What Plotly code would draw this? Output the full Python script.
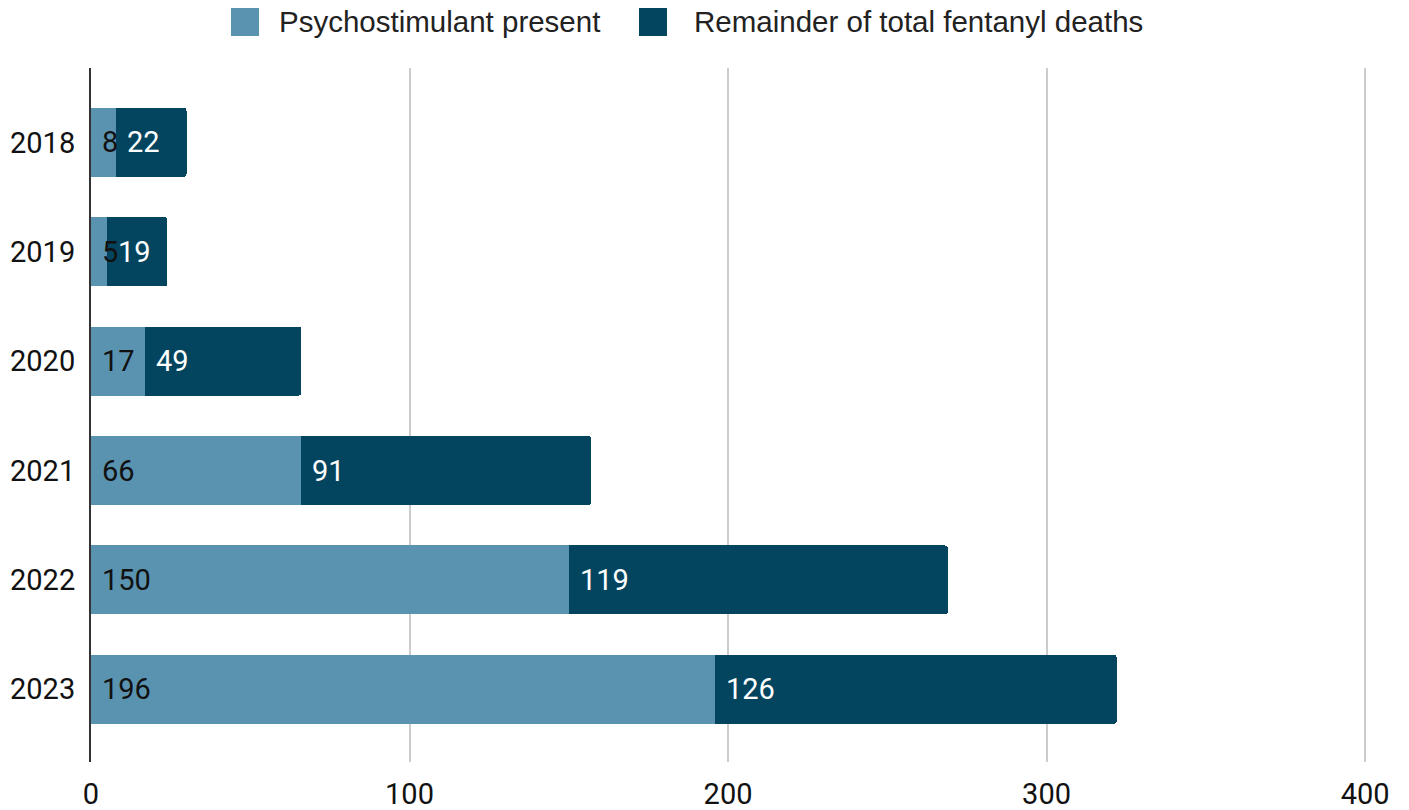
import plotly.graph_objects as go

years = ["2018", "2019", "2020", "2021", "2022", "2023"]
psychostimulant = [8, 5, 17, 66, 150, 196]
remainder = [22, 19, 49, 91, 119, 126]
series_names = ["Psychostimulant present", "Remainder of total fentanyl deaths"]
x_ticks = [0, 100, 200, 300, 400]

LIGHT = "#5a93b0"
DARK = "#03455f"

fig = go.Figure()
fig.add_trace(go.Bar(y=years, x=psychostimulant, orientation="h", name=series_names[0],
                     marker=dict(color=LIGHT, line=dict(width=0)), showlegend=False,
                     hoverinfo="x+name"))
fig.add_trace(go.Bar(y=years, x=remainder, orientation="h", name=series_names[1],
                     marker=dict(color=DARK, line=dict(width=0)), showlegend=False,
                     hoverinfo="x+name"))

annotations = []
for i, (a, b) in enumerate(zip(psychostimulant, remainder)):
    annotations.append(dict(x=0, y=i, xref="x", yref="y", text=str(a), showarrow=False,
                            xanchor="left", yanchor="middle", xshift=9,
                            font=dict(family="Roboto", size=29, color="#111111")))
    annotations.append(dict(x=a, y=i, xref="x", yref="y", text=str(b), showarrow=False,
                            xanchor="left", yanchor="middle", xshift=9,
                            font=dict(family="Roboto", size=29, color="#ffffff")))

# manual legend (large square swatches)
L, R, T, B = 91, 42, 68, 48
W, H = 1409 - L - R, 810 - T - B
def px(xp):
    return (xp - L) / W
def py(yp):
    return (810 - B - yp) / H

shapes = []
legend_items = [(231, 279, LIGHT, series_names[0]), (639, 694, DARK, series_names[1])]
for sx, tx, col, name in legend_items:
    shapes.append(dict(type="rect", xref="paper", yref="paper",
                       x0=px(sx), x1=px(sx + 28), y0=py(36), y1=py(8),
                       fillcolor=col, line=dict(width=0)))
    annotations.append(dict(x=px(tx - 2), y=py(22), xref="paper", yref="paper", text=name,
                            showarrow=False, xanchor="left", yanchor="middle",
                            font=dict(family="Liberation Sans, Arial", size=29.5, color="#222222")))

fig.update_layout(
    width=1409, height=810,
    margin=dict(l=L, r=R, t=T, b=B),
    barmode="stack", bargap=0.37, barcornerradius=3,
    plot_bgcolor="white", paper_bgcolor="white",
    annotations=annotations, shapes=shapes,
    xaxis=dict(range=[0, 400.6], tickvals=x_ticks, ticktext=[str(v) for v in x_ticks],
               showgrid=True, gridcolor="#cccccc", gridwidth=2, zeroline=False,
               showline=False, ticks="", ticklabelstandoff=12, automargin=False,
               tickfont=dict(family="Roboto", size=29, color="#111111")),
    yaxis=dict(type="category", categoryorder="array", categoryarray=years,
               range=[5.665, -0.68], showgrid=False, zeroline=False,
               showline=True, linecolor="#333333", linewidth=2, ticks="",
               ticklabelstandoff=8, automargin=False,
               tickfont=dict(family="Roboto", size=29, color="#111111")),
)

fig.write_html("out.html")
